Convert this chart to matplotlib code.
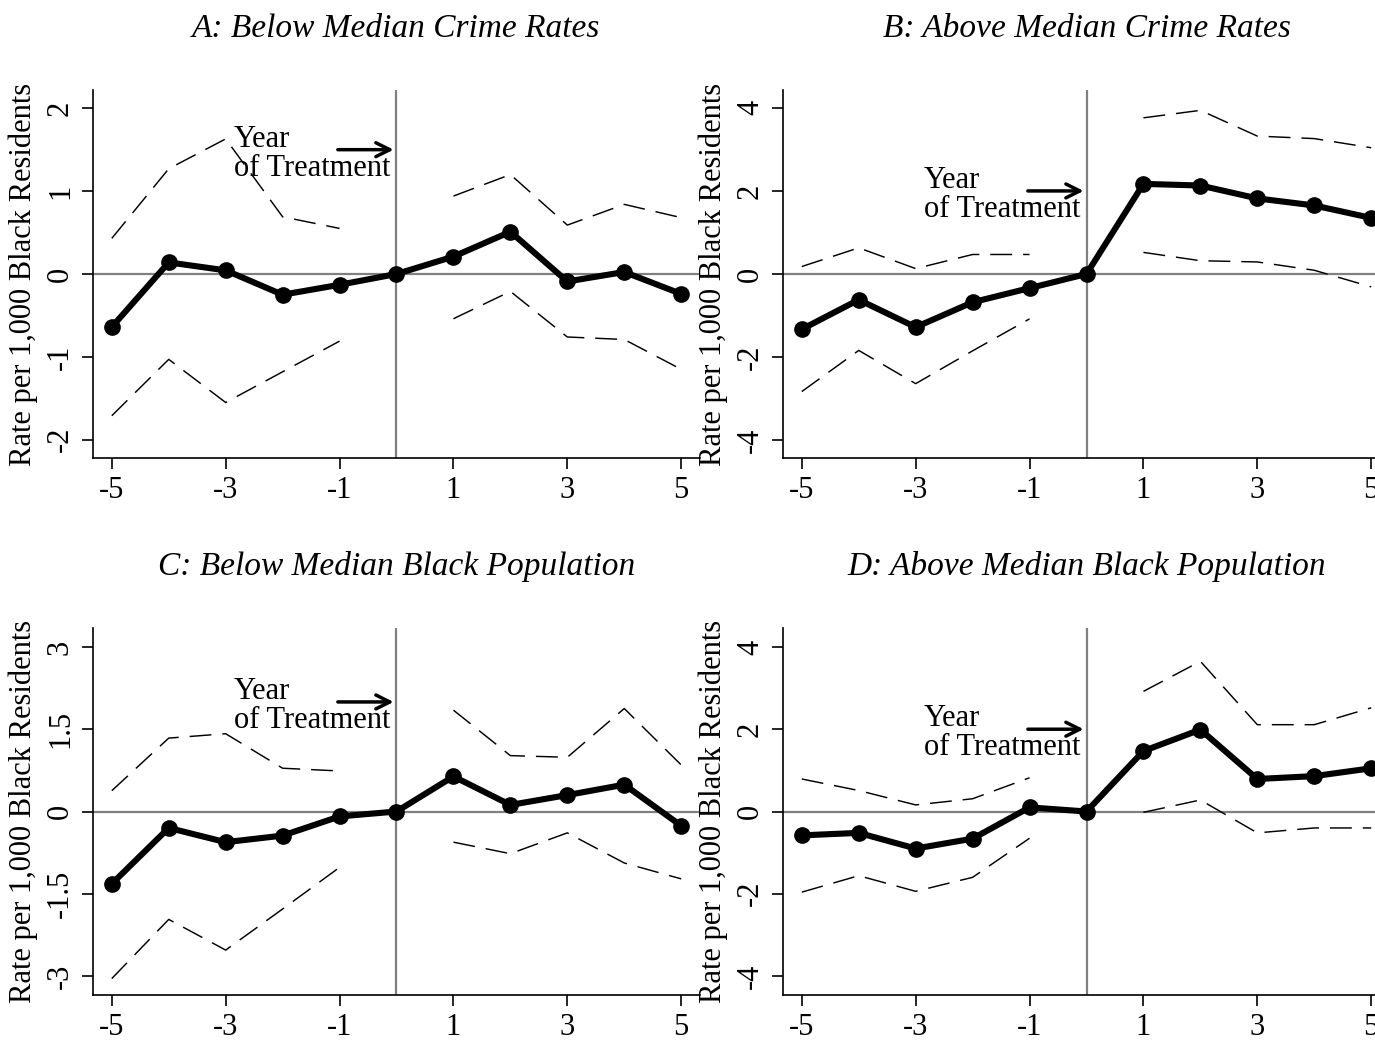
import matplotlib
matplotlib.use("Agg")
import matplotlib.pyplot as plt
import numpy as np

plt.rcParams['font.family'] = ['Liberation Serif', 'DejaVu Serif']

years = [-5, -4, -3, -2, -1, 0, 1, 2, 3, 4, 5]
pre_years = [-5, -4, -3, -2, -1]
post_years = [1, 2, 3, 4, 5]
xtick_vals = [-5, -3, -1, 1, 3, 5]

titles = ["A: Below Median Crime Rates", "B: Above Median Crime Rates",
          "C: Below Median Black Population", "D: Above Median Black Population"]

# point estimates
est_A = [-0.64, 0.14, 0.044, -0.25, -0.13, 0.0, 0.21, 0.51, -0.09, 0.024, -0.24]
est_B = [-1.33, -0.62, -1.28, -0.68, -0.34, 0.0, 2.17, 2.13, 1.82, 1.65, 1.35]
est_C = [-1.32, -0.30, -0.56, -0.44, -0.09, 0.0, 0.64, 0.12, 0.30, 0.49, -0.26]
est_D = [-0.58, -0.52, -0.90, -0.66, 0.10, 0.0, 1.47, 1.99, 0.79, 0.86, 1.05]

# confidence bounds (pre-period, post-period)
up_pre_A = [0.43, 1.27, 1.63, 0.69, 0.55]
up_post_A = [0.94, 1.20, 0.59, 0.84, 0.68]
lo_pre_A = [-1.71, -1.03, -1.55, -1.18, -0.81]
lo_post_A = [-0.54, -0.21, -0.76, -0.79, -1.15]

up_pre_B = [0.18, 0.63, 0.13, 0.47, 0.47]
up_post_B = [3.76, 3.94, 3.32, 3.26, 3.04]
lo_pre_B = [-2.83, -1.84, -2.64, -1.85, -1.08]
lo_post_B = [0.52, 0.32, 0.29, 0.09, -0.31]

up_pre_C = [0.38, 1.34, 1.42, 0.79, 0.74]
up_post_C = [1.85, 1.02, 0.99, 1.88, 0.85]
lo_pre_C = [-3.05, -1.97, -2.53, -1.78, -1.02]
lo_post_C = [-0.56, -0.77, -0.39, -0.94, -1.23]

up_pre_D = [0.79, 0.51, 0.16, 0.31, 0.82]
up_post_D = [2.92, 3.65, 2.11, 2.11, 2.52]
lo_pre_D = [-1.96, -1.56, -1.94, -1.60, -0.65]
lo_post_D = [-0.02, 0.28, -0.52, -0.40, -0.40]

yticks_A = [-2, -1, 0, 1, 2]
yticks_B = [-4, -2, 0, 2, 4]
yticks_C = [-3, -1.5, 0, 1.5, 3]
yticks_D = [-4, -2, 0, 2, 4]
ytick_labels_C = ["-3", "-1.5", "0", "1.5", "3"]

ylims = [2.22, 4.43, 3.35, 4.46]
arrow_y = [1.5, 2.0, 2.0, 2.0]

panels = [
    (est_A, up_pre_A, up_post_A, lo_pre_A, lo_post_A, yticks_A, None),
    (est_B, up_pre_B, up_post_B, lo_pre_B, lo_post_B, yticks_B, None),
    (est_C, up_pre_C, up_post_C, lo_pre_C, lo_post_C, yticks_C, ytick_labels_C),
    (est_D, up_pre_D, up_post_D, lo_pre_D, lo_post_D, yticks_D, None),
]

W, H = 1375, 1044
fig = plt.figure(figsize=(W / 100, H / 100), dpi=100)

# axes rectangles in pixels: left, top, right, bottom
rects = [(93, 90, 700, 458), (783, 90, 1390, 458),
         (93, 628, 700, 995), (783, 628, 1390, 995)]

FS = 22
for i, (est, upp, upo, lop, lopo, yt, ytl) in enumerate(panels):
    l, t, r, b = rects[i]
    ax = fig.add_axes([l / W, 1 - b / H, (r - l) / W, (b - t) / H])
    ax.set_xlim(-5.33, 5.33)
    ax.set_ylim(-ylims[i], ylims[i])
    ax.axhline(0, color='#808080', lw=1.6, zorder=1)
    ax.axvline(0, color='#808080', lw=1.6, zorder=1)
    dash = dict(color='black', lw=1.05, dashes=(15, 7.5), zorder=2)
    ax.plot(pre_years, upp, **dash)
    ax.plot(post_years, upo, **dash)
    ax.plot(pre_years, lop, **dash)
    ax.plot(post_years, lopo, **dash)
    ax.plot(years, est, color='black', lw=4.4, marker='o', markersize=11,
            zorder=3)
    ax.spines['top'].set_visible(False)
    ax.spines['right'].set_visible(False)
    for s in ('left', 'bottom'):
        ax.spines[s].set_linewidth(1.2)
    ax.set_xticks(xtick_vals)
    ax.set_xticklabels([str(v) for v in xtick_vals], fontsize=FS)
    ax.set_yticks(yt)
    if ytl is None:
        ytl = [str(v) for v in yt]
    ax.set_yticklabels(ytl, fontsize=FS, rotation=90, va='center')
    ax.tick_params(axis='both', direction='out', length=8, width=1.2, pad=5)
    ax.set_ylabel("Rate per 1,000 Black Residents", fontsize=FS, labelpad=6)
    ax.set_title(titles[i], fontsize=24, style='italic', pad=38)
    ay = arrow_y[i]
    ax.annotate("", xy=(-0.05, ay), xytext=(-1.03, ay),
                arrowprops=dict(arrowstyle='->', lw=2.5, color='black',
                                mutation_scale=25, shrinkA=0, shrinkB=0),
                zorder=4)
    unit = (b - t) / (2 * ylims[i])  # px per data unit
    ax.text(-2.86, ay - 4 / unit, "Year\nof Treatment", fontsize=FS,
            ha='left', va='center', linespacing=1.0, zorder=4)

fig.savefig("out.png", dpi=100)
